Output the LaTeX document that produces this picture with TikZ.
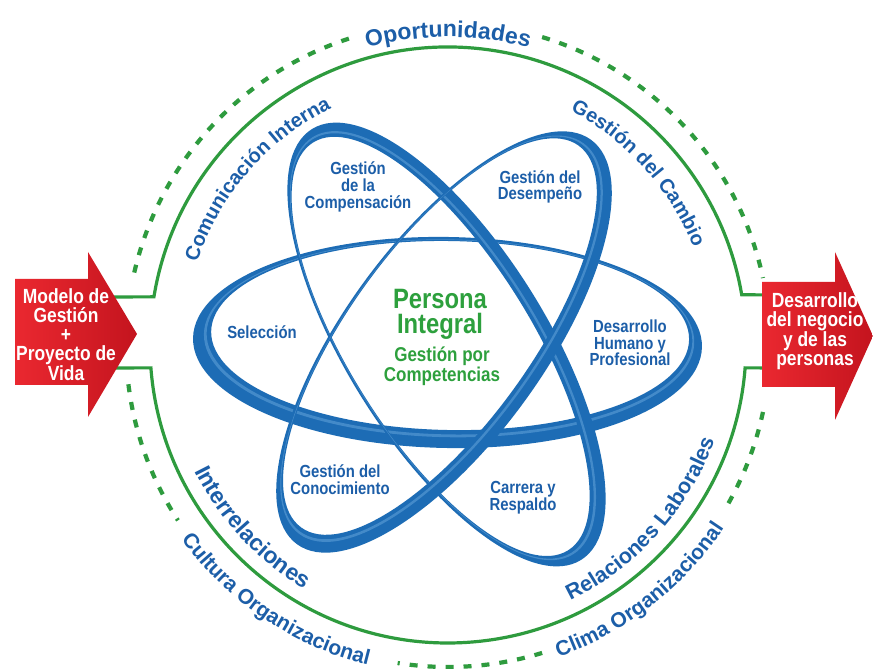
\documentclass[tikz,border=0pt]{standalone}
\usepackage{fontspec}
\setmainfont{Liberation Sans}
\newfontfamily\condfont{Liberation Sans}[FakeStretch=0.85]
\usepackage{xcolor}
\definecolor{tubeblue}{HTML}{1D6CB5}
\definecolor{tubelight}{HTML}{7DB8E8}
\definecolor{labelblue}{HTML}{1C5EA8}
\definecolor{ringgreen}{HTML}{2E9B3E}
\definecolor{leafgreen}{HTML}{2DA03D}
\definecolor{arrowred}{HTML}{EA2830}
\definecolor{deepred}{HTML}{C4141E}
\usepackage{tikz}
\usetikzlibrary{decorations.text}
\tikzset{
  ring/.style    ={draw=ringgreen,line width=3.2pt},
  dashring/.style={draw=ringgreen,line width=4.2pt,dash pattern=on 8pt off 10pt},
  tube/.style    ={fill=tubeblue,even odd rule},
  gloss/.style   ={fill=tubelight,fill opacity=.4,even odd rule},
  lbl/.style     ={font=\condfont\bfseries\fontsize{17.5}{16.7}\selectfont,
                   text=labelblue,align=center,inner sep=0pt},
  core/.style    ={font=\condfont\bfseries\fontsize{28}{25}\selectfont,
                   text=leafgreen,align=center,inner sep=0pt},
  coresub/.style ={font=\condfont\bfseries\fontsize{20}{18.5}\selectfont,
                   text=leafgreen,align=center,inner sep=0pt},
  arrowtxt/.style={font=\condfont\bfseries\fontsize{20.5}{19}\selectfont,
                   text=white,align=center,inner sep=0pt},
  redarrow/.style={left color=arrowred,right color=deepred},
  arclbl/.style args={#1/#2}{decorate,decoration={text along path,
                   text align=center,text color=labelblue,
                   text={|\bfseries\fontsize{#1}{#1}\selectfont|#2}}},
}

\begin{document}
\begin{tikzpicture}[x=1pt,y=1pt]
\useasboundingbox (0,0) rectangle (873,669);
\fill[white] (0,0) rectangle (873,669);
\coordinate (c) at (448,324);
%---------------- green rings
\draw[ring] (100,372) -- ([shift={(170.7:298pt)}]c) arc[start angle=170.7,end angle=9.7,radius=298pt] -- (790,374);
\draw[ring] (100,301) -- ([shift={(184.4:298pt)}]c) arc[start angle=184.4,end angle=355.6,radius=298pt] -- (790,301);
\draw[dashring] ([shift={(167:322pt)}]c) arc[start angle=167,end angle=107,radius=322pt];
\draw[dashring] ([shift={(73:322pt)}]c) arc[start angle=73,end angle=12,radius=322pt];
\draw[dashring] ([shift={(-12:322pt)}]c) arc[start angle=-12,end angle=-31,radius=322pt];
\draw[dashring] ([shift={(-73:322pt)}]c) arc[start angle=-73,end angle=-99,radius=322pt];
\draw[dashring] ([shift={(187:322pt)}]c) arc[start angle=187,end angle=213,radius=322pt];
%---------------- curved labels
\path[arclbl={23/Oportunidades}] ([shift={(125:308pt)}]c) arc[start angle=125,end angle=55,radius=308pt];
\path[arclbl={20/Comunicación Interna}] ([shift={(180:264pt)}]c) arc[start angle=180,end angle=98,radius=264pt];
\path[arclbl={20/Gestión del Cambio}] ([shift={(82:264pt)}]c) arc[start angle=82,end angle=2,radius=264pt];
\path[arclbl={23/Interrelaciones}] ([shift={(188:283pt)}]c) arc[start angle=188,end angle=258,radius=283pt];
\path[arclbl={21.5/Relaciones Laborales}] ([shift={(-78:283pt)}]c) arc[start angle=-78,end angle=-6,radius=283pt];
\path[arclbl={21/Cultura Organizacional}] ([shift={(206:330pt)}]c) arc[start angle=206,end angle=266,radius=330pt];
\path[arclbl={21/Clima Organizacional}] ([shift={(-82:331pt)}]c) arc[start angle=-82,end angle=-22,radius=331pt];
%---------------- atom
\begin{scope}[shift={(447.5,326.5)},rotate=-1]
  \path[tube] (0,0) ellipse[x radius=254.5pt,y radius=105.5pt] (2.5,7) ellipse[x radius=239pt,y radius=94.5pt];
  \path[gloss] (1.5,4.2) ellipse[x radius=245.2pt,y radius=98.9pt] (1.9,5.3) ellipse[x radius=242.9pt,y radius=97.2pt];
\end{scope}
\begin{scope}[shift={(446.5,324.5)},rotate=-58]
  \path[tube] (0,0) ellipse[x radius=254pt,y radius=100pt] (-1.5,-6) ellipse[x radius=240.5pt,y radius=91pt];
  \path[gloss] (-0.9,-3.6) ellipse[x radius=245.9pt,y radius=94.6pt] (-1.1,-4.5) ellipse[x radius=243.9pt,y radius=93.2pt];
\end{scope}
\begin{scope}[shift={(444,327)},rotate=54]
  \path[tube] (0,0) ellipse[x radius=250pt,y radius=100pt] (2,6.5) ellipse[x radius=236pt,y radius=90.5pt];
  \path[gloss] (1.2,3.9) ellipse[x radius=241.6pt,y radius=94.3pt] (1.5,4.9) ellipse[x radius=239.5pt,y radius=92.9pt];
\end{scope}
%---------------- labels
\node[lbl] (comp) at (358,482) {Gestión\\de la\\Compensación};
\node[lbl] (desemp) at (540,482) {Gestión del\\Desempeño};
\node[lbl] (selec) at (262,337) {Selección};
\node[lbl] (desarr) at (630,326) {Desarrollo\\Humano y\\Profesional};
\node[lbl] (conoc) at (340,189) {Gestión del\\Conocimiento};
\node[lbl] (carrera) at (523,171) {Carrera y\\Respaldo};
\node[core] (persona) at (440,354.5) {Persona\\Integral};
\node[coresub] (gxc) at (442,303) {Gestión por\\Competencias};
%---------------- arrows
\shade[redarrow] (15,390) -- (88,390) -- (88,417) -- (137,335) -- (88,252) -- (88,284) -- (15,284) -- cycle;
\node[arrowtxt] (inarrow) at (66,334) {Modelo de\\Gestión\\+\\Proyecto de\\Vida};
\shade[redarrow] (762,387) -- (835,387) -- (835,417) -- (873,333) -- (835,249) -- (835,282) -- (762,282) -- cycle;
\node[arrowtxt] (outarrow) at (815,338) {Desarrollo\\del negocio\\y de las\\personas};
\end{tikzpicture}
\end{document}
